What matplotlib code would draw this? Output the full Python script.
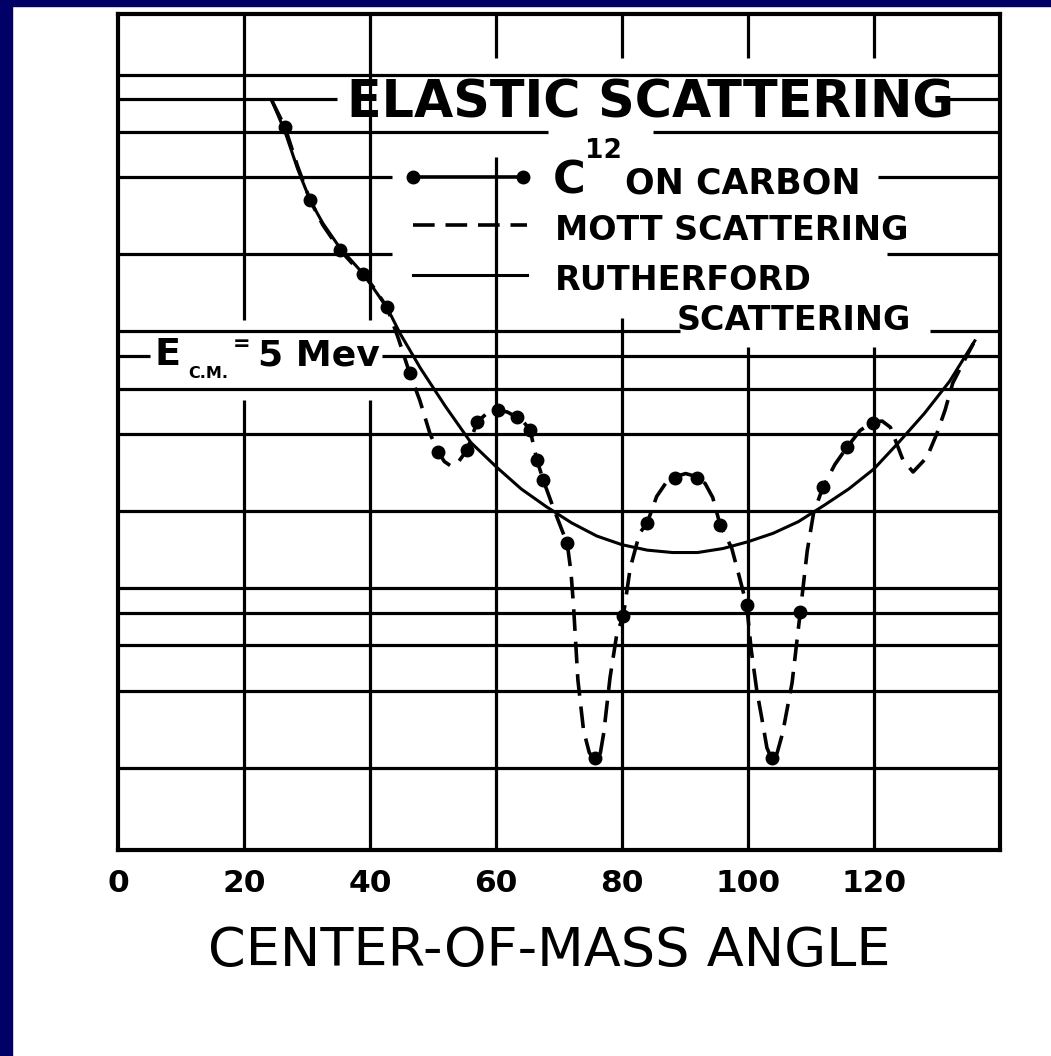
import matplotlib
matplotlib.use("Agg")
import matplotlib.pyplot as plt
from matplotlib.lines import Line2D
from matplotlib.patches import Rectangle

W, H = 1051, 1056

# C12 on carbon, measured points (angle in deg, cross section in arbitrary log units)
exp_angle = [26.5, 30.5, 35.2, 38.9, 42.7, 46.3, 50.8, 55.4, 57.0, 60.3, 63.3, 65.4, 66.5, 67.5,
             71.3, 75.7, 80.2, 84.0, 88.4, 91.9, 95.6, 99.8, 103.8, 108.3, 111.9, 115.7, 119.8]
exp_value = [312, 162, 104, 84, 62, 34.4, 17.0, 17.3, 22.2, 24.7, 23.2, 20.7, 15.8, 13.2,
             7.5, 1.09, 3.9, 9.0, 13.4, 13.4, 8.8, 4.3, 1.09, 4.05, 12.4, 17.7, 22.0]

# Mott scattering (dashed curve)
mott_angle = [24.4, 26.5, 28.5, 30.5, 32.5, 35.2, 37.0, 38.9, 40.8, 42.7, 44.5, 46.3, 47.9, 49.5,
              50.8, 51.8, 52.8, 54.0, 55.4, 57.0, 58.7, 60.3, 61.8, 63.3, 64.4, 65.4, 66.5, 67.5,
              69.1, 70.5, 71.3, 71.9, 72.3, 73.0, 73.9, 74.8, 75.7, 76.5, 77.1, 78.1, 79.2, 80.2,
              81.3, 82.8, 84.0, 85.5, 86.9, 88.4, 90.1, 91.9, 93.2, 94.4, 95.6, 97.4, 98.5, 99.8,
              100.5, 101.4, 102.2, 103.0, 103.8, 104.6, 105.5, 107.0, 108.3, 109.4, 110.4, 111.9,
              113.8, 115.7, 117.8, 119.8, 121.3, 122.6, 124.6, 126.2, 128.4, 130.0, 131.3, 132.5,
              134.2, 135.8]
mott_value = [397, 312, 220, 162, 130, 104, 93, 84, 73, 62, 47, 34.4, 27, 20.1,
              17.0, 15.6, 15.0, 15.5, 17.3, 22.2, 24.2, 24.7, 24.3, 23.2, 22.2, 20.7, 15.8, 13.2,
              10.3, 8.4, 7.5, 5.8, 4.3, 2.2, 1.4, 1.15, 1.07, 1.12, 1.37, 2.25, 3.35, 3.9,
              6.0, 8.2, 9.0, 11.4, 12.8, 13.6, 14.0, 13.6, 12.8, 11.3, 8.8, 7.2, 5.7, 4.3,
              2.9, 2.0, 1.56, 1.2, 1.08, 1.14, 1.37, 2.15, 4.05, 7.0, 9.8, 12.4,
              15.2, 17.7, 20.6, 22.2, 22.4, 21.2, 15.8, 14.2, 16.2, 20.1, 24.8, 31.5,
              38, 45]

# Rutherford scattering (solid curve)
ruth_angle = [24.4, 26.5, 28.5, 30.5, 32.5, 35.2, 38.9, 42.7, 44.8, 48, 52, 56, 60, 64, 68, 72, 76,
              80, 84, 88, 92, 96, 100, 104, 108, 112, 116, 120, 124, 128, 132, 136]
ruth_value = [397, 300, 215, 162, 132, 106, 84, 62, 49, 36, 25.5, 18.5, 14.9, 12.2, 10.4, 9.0, 8.0,
              7.4, 7.05, 6.9, 6.9, 7.15, 7.6, 8.2, 9.1, 10.5, 12.2, 14.6, 18.6, 24, 32, 46]

tick_pos = [0, 20, 40, 60, 80, 100, 120]
tick_labels = ["0", "20", "40", "60", "80", "100", "120"]


def fx(px):
    return px / W


def fy(py):
    return 1 - py / H


fig = plt.figure(figsize=(W / 100, H / 100), dpi=100, facecolor="white")

# navy border strips (top and left)
fig.patches.append(Rectangle((0, fy(6)), 1, 6 / H, transform=fig.transFigure, color="#000066", zorder=10))
fig.patches.append(Rectangle((0, 0), fx(12), 1, transform=fig.transFigure, color="#000066", zorder=10))

ax = fig.add_axes([fx(118), fy(850), fx(1000) - fx(118), fy(14) - fy(850)])
ax.set_yscale("log")
ax.set_xlim(0, 140)
ax.set_ylim(0.48, 860)

# hand drawn grid, broken where the lettering sits
ymin, ymax = 0.48, 860
hgrid = {
    1: [(0, 140)], 2: [(0, 140)], 3: [(0, 140)], 4: [(0, 140)], 5: [(0, 140)],
    10: [(0, 140)], 20: [(0, 140)], 30: [(0, 140)],
    40: [(0, 5.1), (41.9, 140)],
    50: [(0, 89.2), (128.9, 140)],
    100: [(0, 43.5), (122.1, 140)],
    200: [(0, 43.5), (120.6, 140)],
    300: [(0, 68.3), (84.9, 140)],
    400: [(0, 34.8), (130.0, 140)],
    500: [(0, 140)],
}
vgrid = {
    20: [(ymin, 27.0), (55.4, ymax)],
    40: [(ymin, 27.0), (55.4, ymax)],
    60: [(ymin, 238), (579, ymax)],
    80: [(ymin, 56.4), (579, ymax)],
    100: [(ymin, 43.5), (579, ymax)],
    120: [(ymin, 43.5), (579, ymax)],
}
for yv, segs in hgrid.items():
    for a, b in segs:
        ax.hlines(yv, a, b, color="black", lw=2.3, zorder=1)
for xv, segs in vgrid.items():
    for a, b in segs:
        ax.vlines(xv, a, b, color="black", lw=2.3, zorder=1)

ax.plot(ruth_angle, ruth_value, color="black", lw=2.2, zorder=3)
ax.plot(mott_angle, mott_value, color="black", lw=2.6, dashes=(6, 3), zorder=3)
ax.plot(exp_angle, exp_value, "o", color="black", markersize=9, zorder=4)

for s in ax.spines.values():
    s.set_linewidth(3)
    s.set_color("black")

ax.set_xticks(tick_pos)
ax.set_xticklabels(tick_labels, fontsize=22.5, fontweight="bold")
ax.tick_params(axis="x", length=0, pad=13.5)
ax.yaxis.set_major_locator(matplotlib.ticker.NullLocator())
ax.yaxis.set_minor_locator(matplotlib.ticker.NullLocator())
ax.set_xlabel("CENTER-OF-MASS ANGLE", fontsize=39)
ax.xaxis.set_label_coords(0.4887, (850 - 925) / 836)

# lettering on the chart
fig.text(fx(347), fy(117), "ELASTIC SCATTERING", fontsize=36.5, fontweight="bold", va="baseline")
fig.text(fx(553), fy(193), "C", fontsize=32, fontweight="bold", va="baseline")
fig.text(fx(585), fy(158), "12", fontsize=19, fontweight="bold", va="baseline")
fig.text(fx(625), fy(193), "ON CARBON", fontsize=25, fontweight="bold", va="baseline")
fig.text(fx(555), fy(240), "MOTT SCATTERING", fontsize=24, fontweight="bold", va="baseline")
fig.text(fx(555), fy(290), "RUTHERFORD", fontsize=24, fontweight="bold", va="baseline")
fig.text(fx(677), fy(330), "SCATTERING", fontsize=24, fontweight="bold", va="baseline")

fig.text(fx(155), fy(365), "E", fontsize=27.5, fontweight="bold", va="baseline")
fig.text(fx(188), fy(378), "C.M.", fontsize=11.5, fontweight="bold", va="baseline")
fig.text(fx(233), fy(350), "=", fontsize=15, fontweight="bold", va="baseline")
fig.text(fx(258), fy(365), "5 Mev", fontsize=26, fontweight="bold", va="baseline")

# legend keys
fig.add_artist(Line2D([fx(413), fx(523)], [fy(177), fy(177)], color="black", lw=2.6,
                      marker="o", markersize=9, transform=fig.transFigure))
fig.add_artist(Line2D([fx(413), fx(527)], [fy(225), fy(225)], color="black", lw=2.6,
                      dashes=(6, 3), transform=fig.transFigure))
fig.add_artist(Line2D([fx(413), fx(527)], [fy(275), fy(275)], color="black", lw=2.2,
                      transform=fig.transFigure))

fig.savefig("out.png", dpi=100, facecolor="white")
